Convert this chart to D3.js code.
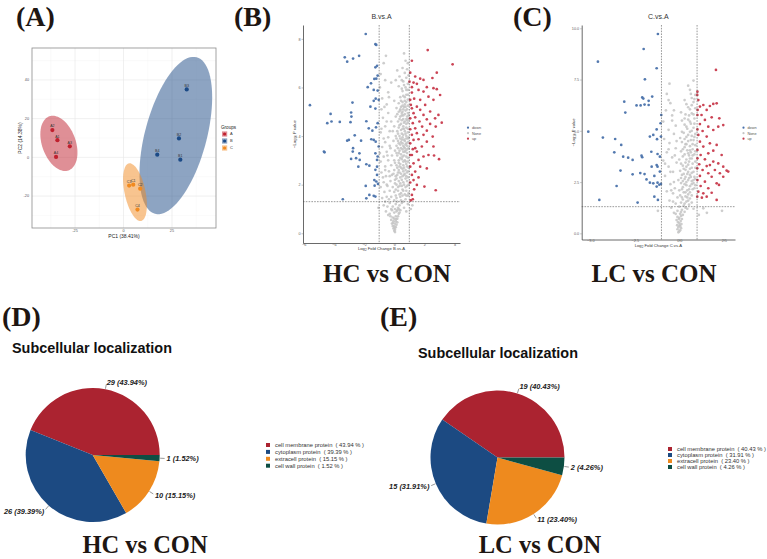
<!DOCTYPE html>
<html>
<head>
<meta charset="utf-8">
<script src="https://cdn.jsdelivr.net/npm/d3@7"></script>
<style>
  body { margin: 0; background: #fff; }
  svg { display: block; }
</style>
</head>
<body>
<script>
var W = 767, H = 559;

// ---------- PCA (panel A) ----------
var pcaSamples = ["A2", "A1", "A3", "A4", "B3", "B2", "B4", "B1", "C3", "C1", "C2", "C4"];
var pcaGroup = ["A", "A", "A", "A", "B", "B", "B", "B", "C", "C", "C", "C"];
var pc1 = [-36.7, -34.1, -27.7, -34.8, 32.6, 28.6, 17.4, 29.3, 2.9, 5.0, 8.6, 7.2];
var pc2 = [14.1, 8.9, 5.7, 0.2, 35.1, 9.8, 1.4, -1.2, -14.6, -14.1, -16.2, -27.0];
var groups = ["A", "B", "C"];
var groupColors = ["#c0202e", "#1b4a86", "#f18a1f"];
var pcaXTicks = [-25, 0, 25];
var pcaYTicks = [-20, 0, 20, 40];

// ---------- volcano B.vs.A  (flat pairs: log2FC, -log10 p) ----------
var volcBDown = [
  -1.89,8.2, -1.25,7.78, -1.19,7.75, -3.28,7.24, -3.12,7.06, -2.73,7.19, -2.33,7.3, -1.14,6.89,
  -1.25,6.83, -1.1,6.49, -1.32,6.35, -1.19,6.36, -1.54,6.17, -1.76,6.01, -1.36,5.9, -1.1,5.87,
  -1.23,5.54, -1.36,5.45, -1.03,5.49, -2.77,5.38, -5.59,5.27, -1.58,5.21, -1.25,5.13, -2.86,4.97,
  -4.22,4.91, -2.84,4.8, -4.44,4.53, -4.16,4.6, -3.61,4.58, -2.9,4.57, -1.85,4.61, -1.1,4.53,
  -1.69,4.32, -1.21,4.36, -1.45,4.22, -2.62,4.03, -3.12,3.81, -3.01,3.84, -2.2,3.81, -1.52,3.87,
  -1.36,3.84, -1.23,3.77, -4.66,3.36, -4.62,3.33, -2.73,3.5, -2.75,3.36, -2.31,3.29, -2.53,3.09,
  -2.86,3.06, -2.29,3.02, -1.25,3.29, -1.1,3.16, -1.14,3.02, -2.38,2.74, -1.85,2.84, -1.65,2.78,
  -1.25,2.61, -1.14,2.4, -1.32,2.19, -1.19,2.13, -1.08,2.03, -1.89,1.95, -1.3,1.96, -1.65,1.58,
  -1.36,1.54, -1.85,1.44, -1.25,1.51, -3.41,1.4, -1.14,2.74, -1.03,3.57
];
var volcBUp = [
  2.22,7.54, 3.87,6.95, 1.17,7.1, 2.82,6.61, 2.53,6.39, 1.06,6.61, 1.39,6.45, 1.72,6.36,
  1.94,6.31, 1.28,6.2, 1.5,6.15, 1.17,6.01, 2.16,6.01, 2.6,5.97, 2.82,5.93, 1.61,5.9,
  1.94,5.83, 1.17,5.79, 3.04,5.69, 2.27,5.62, 1.32,5.54, 1.06,5.49, 1.72,5.49, 2.6,5.49,
  2.05,5.28, 1.5,5.21, 1.17,5.14, 1.72,5.08, 2.38,5.01, 1.28,4.94, 1.94,4.87, 2.93,4.87,
  1.39,4.77, 1.06,4.73, 2.16,4.69, 2.71,4.73, 3.15,4.55, 1.67,4.6, 1.23,4.53, 2.38,4.5,
  1.85,4.39, 1.39,4.32, 1.06,4.28, 2.75,4.39, 2.16,4.22, 1.5,4.12, 1.17,4.05, 1.94,4.05,
  2.55,3.98, 1.61,3.87, 1.28,3.84, 2.16,3.77, 1.06,3.7, 1.83,3.57, 2.6,3.57, 1.23,3.46,
  1.5,3.36, 1.17,3.22, 2.27,3.22, 2.64,3.2, 1.94,3.16, 2.97,3.05, 1.61,3.02, 1.28,2.88,
  1.06,2.74, 1.72,2.74, 2.16,2.67, 1.39,2.54, 1.17,2.4, 1.61,2.3, 1.28,2.19, 1.06,2.09,
  1.5,1.99, 2.0,1.92, 2.75,1.77, 1.32,1.81, 1.17,1.58, 1.23,1.4, 1.1,1.35, 1.39,3.5,
  1.06,3.22, 1.1,5.28, 1.01,6.24
];
var volcBNone = [
  0.0,0.1, 0.05,0.15, -0.05,0.2, 0.1,0.25, -0.1,0.3, 0.0,0.3, 0.15,0.35, -0.15,0.4, 0.05,0.4,
  0.2,0.45, -0.05,0.5, 0.1,0.5, -0.2,0.55, 0.0,0.6, 0.2,0.6, -0.1,0.65, 0.1,0.7, 0.25,0.7,
  -0.25,0.7, 0.05,0.05, 0.02,0.22, -0.08,0.42, 0.12,0.58,
  -0.4,0.75, -0.3,0.8, 0.3,0.8, 0.0,0.85, -0.55,0.9, 0.15,0.9, 0.4,0.95, -0.2,1.0, 0.05,1.0,
  0.25,1.05, -0.45,1.1, -0.1,1.1, 0.35,1.15, 0.1,1.2, -0.3,1.25, 0.5,1.25, 0.2,1.3, -0.6,1.3,
  0.0,1.35, 0.45,1.35, 0.8,0.9, 1.1,1.0, 0.9,1.2, 1.2,1.15, -1.05,1.05, -0.7,1.15, 0.65,1.05,
  -0.15,0.95, 0.3,1.0,
  -0.8,1.45, -0.5,1.5, -0.2,1.5, 0.1,1.55, 0.4,1.5, 0.7,1.6, 0.9,1.55, -0.65,1.7, -0.3,1.75,
  0.0,1.7, 0.25,1.75, 0.55,1.8, 0.8,1.75, -0.9,1.9, -0.45,1.95, -0.1,1.9, 0.15,2.0, 0.35,1.95,
  0.65,2.0, 0.95,2.0, -0.7,2.1, -0.25,2.15, 0.05,2.2, 0.3,2.15, 0.5,2.2, 0.75,2.25, 0.9,2.3,
  -0.55,2.35, -0.15,2.4, 0.2,2.4, 0.45,2.45, 0.65,2.4, 0.85,2.5, -0.85,2.5, -0.35,2.55, 0.0,2.6,
  0.3,2.6, 0.55,2.65, 0.75,2.6, 0.95,2.7, 0.1,1.8, 0.45,1.65, 0.6,2.1, 0.25,2.5, 0.7,2.45,
  0.4,2.3, 0.15,2.25, 0.85,1.95, 0.35,1.6, -0.05,2.45,
  -0.6,2.75, -0.2,2.8, 0.15,2.8, 0.4,2.85, 0.6,2.8, 0.8,2.85, -0.9,2.95, -0.4,3.0, 0.0,3.0,
  0.3,3.0, 0.5,3.05, 0.7,3.0, 0.9,3.1, -0.7,3.15, -0.15,3.2, 0.2,3.2, 0.45,3.25, 0.65,3.2,
  0.85,3.3, -0.5,3.35, 0.05,3.4, 0.35,3.4, 0.55,3.45, 0.75,3.4, 0.95,3.5, -0.8,3.55, -0.3,3.6,
  0.15,3.6, 0.4,3.65, 0.6,3.6, 0.8,3.7, -0.6,3.75, -0.05,3.8, 0.25,3.8, 0.5,3.85, 0.7,3.8,
  0.9,3.9, -0.4,3.95, 0.1,4.0, 0.35,4.0, 0.6,4.05, 0.8,4.0, 0.55,3.15, 0.25,3.5, 0.65,3.55,
  0.45,3.75, 0.75,2.95, 0.85,3.6, 0.3,2.9, 0.55,3.95, 0.7,3.35, 0.95,3.95,
  -0.9,4.15, -0.3,4.2, 0.2,4.2, 0.45,4.25, 0.7,4.2, 0.9,4.3, -0.6,4.4, 0.0,4.4, 0.35,4.45,
  0.6,4.4, 0.8,4.5, -0.2,4.6, 0.25,4.6, 0.5,4.65, 0.7,4.6, 0.95,4.7, -0.75,4.75, 0.1,4.8,
  0.4,4.8, 0.6,4.85, 0.85,4.8, -0.4,4.95, 0.3,5.0, 0.55,5.0, 0.75,5.05, -0.85,5.1, 0.15,5.15,
  0.45,5.2, 0.65,5.2, 0.9,5.25, -0.5,5.3, 0.3,5.35, 0.55,5.4, 0.8,5.4, 0.0,5.45, 0.65,4.3,
  0.85,4.65, 0.5,4.95, 0.7,5.3, 0.4,5.1, 0.9,4.95,
  -0.8,5.55, 0.4,5.6, 0.7,5.6, 0.9,5.7, -0.4,5.8, 0.55,5.85, 0.8,5.9, -0.95,6.0, 0.3,6.05,
  0.65,6.1, 0.9,6.15, -0.6,6.3, 0.5,6.3, 0.8,6.4, 0.95,6.5, -0.9,6.55, 0.7,6.6, 0.2,6.7,
  0.85,6.75, -0.7,7.0, 0.75,7.1, -0.55,7.3, 0.65,7.4, 0.9,7.0,
  0.2,0.95, 0.35,0.85, -0.35,1.4, 0.6,1.3, 0.75,1.4, 0.15,1.45, 0.55,1.55, 0.8,1.55, 0.95,1.65,
  0.6,1.75, 0.25,1.9, 0.5,1.95, 0.75,1.9, 0.05,2.05, 0.4,2.05, 0.85,2.15, 0.55,2.35, 0.8,2.35,
  0.1,2.35, 0.35,2.5, 0.6,2.55, 0.9,2.55, 0.45,2.7, 0.2,2.7, 0.65,2.7, 0.85,2.75, 0.35,2.75,
  0.05,2.9, 0.6,2.95, 0.9,2.95, 0.4,3.1, 0.8,3.15, 0.3,3.3, 0.6,3.35, 0.15,3.3, 0.85,3.45,
  0.45,3.5, 0.7,3.5, 0.3,3.7, 0.55,3.7, 0.75,3.65, 0.9,3.75, 0.15,3.9, 0.4,3.9, 0.65,3.85,
  0.8,3.9, 0.25,4.1, 0.5,4.1, 0.75,4.1, 0.9,4.15, 0.55,4.3, 0.3,4.35, 0.8,4.35, 0.45,4.5,
  0.65,4.55, 0.9,4.55, 0.35,4.7, 0.6,4.7, 0.8,4.7, 0.2,4.9, 0.5,4.85, 0.7,4.9, 0.95,4.85,
  0.4,5.05, 0.6,5.1, 0.85,5.1, 0.55,5.25, 0.75,5.2, 0.45,5.45, 0.7,5.45, 0.9,5.5, 0.6,5.65,
  0.8,5.7, 0.5,5.95, 0.75,6.0, 0.9,5.9, 0.6,6.25, -0.5,2.0, -0.6,2.6, -0.45,3.2, -0.7,3.9,
  -0.5,4.6, -0.65,5.2, -0.3,2.35, -0.25,3.5, -0.1,4.2, -0.35,5.6, -0.2,6.2, 0.1,6.3, 0.35,6.45,
  0.55,6.8, -0.85,4.3, -0.75,2.3, -0.95,3.3
];

// ---------- volcano C.vs.A ----------
var volcCDown = [
  -1.2,9.72, -2.0,8.99, -4.57,8.37, -1.27,8.05, -1.93,7.51, -3.09,6.42, -2.08,6.63, -2.02,6.57,
  -1.52,6.67, -1.72,6.46, -1.72,6.26, -2.4,6.24, -2.17,6.24, -1.95,6.28, -3.03,5.89, -1.01,5.77,
  -1.05,5.37, -1.27,5.07, -5.11,4.96, -4.29,4.67, -3.6,4.6, -1.65,4.72, -1.46,4.8, -1.03,4.72,
  -3.26,4.31, -1.25,4.59, -3.65,3.95, -3.15,3.74, -2.87,3.69, -2.12,3.79, -2.08,3.71, -2.62,3.58,
  -1.57,3.98, -1.22,3.87, -1.09,3.74, -3.3,3.06, -1.27,3.33, -1.22,3.25, -1.55,3.25, -2.19,2.94,
  -2.62,2.88, -1.95,2.89, -1.4,2.8, -3.52,2.31, -1.84,2.63, -1.65,2.47, -1.46,2.44, -1.22,2.47,
  -1.03,2.41, -1.12,2.37, -1.27,2.28, -1.4,1.79, -1.2,1.63, -4.49,1.63, -2.34,1.5, -1.09,3.01
];
var volcCUp = [
  2.06,7.97, 1.02,6.91, 1.01,6.75, 1.07,6.5, 1.35,6.26, 1.72,6.21, 1.91,6.31, 2.1,6.34,
  1.16,6.18, 1.03,6.02, 1.54,6.02, 1.25,5.77, 1.02,5.77, 1.82,5.66, 2.25,5.61, 1.44,5.53,
  1.16,5.33, 1.63,5.2, 2.19,5.2, 2.47,5.28, 1.02,5.07, 1.31,4.99, 1.91,5.04, 1.07,4.8,
  1.54,4.72, 1.16,4.47, 1.72,4.39, 2.1,4.31, 1.35,4.23, 1.02,4.07, 1.91,4.03, 1.63,3.9,
  1.2,3.82, 2.38,3.82, 1.02,3.66, 1.44,3.61, 1.91,3.5, 2.19,3.41, 1.12,3.37, 1.54,3.28,
  1.72,3.33, 2.47,3.25, 1.01,3.17, 1.31,3.09, 2.0,3.09, 2.66,3.06, 2.75,3.01, 1.63,2.93,
  2.28,2.93, 1.16,2.8, 1.82,2.76, 2.47,2.76, 1.02,2.6, 1.44,2.52, 2.1,2.44, 1.2,2.31,
  1.63,2.2, 2.23,2.36, 1.07,2.03, 1.35,1.95, 1.82,1.98, 1.54,1.79, 1.27,1.74, 2.1,1.63,
  1.01,1.79
];
var volcCNone = [
  -0.05,0.05, 0.0,0.1, 0.05,0.15, -0.1,0.2, 0.1,0.25, -0.05,0.3, 0.05,0.35, -0.12,0.4, 0.12,0.45,
  0.0,0.5, -0.08,0.55, 0.08,0.6, -0.15,0.65, 0.15,0.7, 0.0,0.75, -0.1,0.8, 0.1,0.85, 0.2,0.9,
  -0.2,0.95, 0.05,0.95, 0.02,0.4, -0.02,0.7,
  -0.3,1.0, 0.3,1.05, -0.1,1.1, 0.15,1.15, 0.45,1.2, -0.45,1.25, 0.0,1.3, 0.25,1.35, 0.55,1.4,
  -0.2,1.45, 0.1,1.5, 0.4,1.55, -0.55,1.6, 0.2,1.65, 0.6,1.7, -0.1,1.75, 0.35,1.8, 0.05,1.85,
  0.5,1.9, -0.35,1.95, 0.25,2.0, 1.35,1.22, 2.4,1.1, 1.55,1.0, 1.1,0.9, -1.2,1.1, 0.8,1.2, 0.7,1.5,
  -0.7,2.05, 0.0,2.1, 0.45,2.1, 0.75,2.15, -0.25,2.2, 0.2,2.25, 0.6,2.3, 0.9,2.35, -0.5,2.4,
  0.1,2.45, 0.4,2.5, 0.7,2.55, -0.05,2.6, 0.3,2.65, 0.55,2.7, 0.85,2.75, -0.8,2.8, 0.15,2.85,
  0.45,2.9, 0.7,2.95, -0.35,3.0, 0.05,3.05, 0.35,3.1, 0.6,3.15, 0.9,3.2, -0.6,3.25, 0.2,3.3,
  0.5,3.35, 0.75,3.4, -0.15,3.45, 0.3,2.4, 0.6,2.85, 0.4,3.25, 0.8,2.6, 0.25,2.9, 0.1,3.4,
  -0.9,3.55, 0.0,3.6, 0.4,3.6, 0.7,3.65, -0.4,3.7, 0.2,3.75, 0.55,3.8, 0.85,3.85, -0.7,3.95,
  0.1,4.0, 0.45,4.05, 0.75,4.1, -0.2,4.15, 0.3,4.2, 0.6,4.25, 0.9,4.3, -0.55,4.4, 0.15,4.45,
  0.5,4.5, 0.8,4.55, -0.85,4.6, 0.05,4.65, 0.4,4.7, 0.7,4.75, -0.3,4.85, 0.25,4.9, 0.6,4.95,
  0.35,4.35, 0.65,3.95, 0.85,4.7,
  -0.6,5.05, 0.45,5.1, 0.8,5.15, -0.2,5.25, 0.3,5.3, 0.65,5.35, -0.9,5.45, 0.5,5.55, 0.85,5.6,
  -0.4,5.75, 0.35,5.8, 0.7,5.85, -0.75,6.0, 0.6,6.05, 0.9,6.1, 0.4,6.3, 0.8,6.4, -0.5,6.35,
  0.15,5.5, 0.7,6.6, 0.9,6.75, -0.7,6.8, 0.6,7.0, -0.55,7.3, 0.8,7.45, 0.5,7.2,
  0.1,1.05, 0.35,1.25, 0.5,1.6, 0.3,1.45, 0.15,1.75, 0.45,1.75, 0.7,1.85, 0.35,2.0, 0.6,2.0,
  0.15,2.15, 0.55,2.15, 0.85,2.2, 0.4,2.35, 0.7,2.4, 0.2,2.55, 0.5,2.6, 0.8,2.45, 0.35,2.75,
  0.65,2.75, 0.9,2.65, 0.1,2.7, 0.5,3.0, 0.8,3.0, 0.25,3.15, 0.7,3.2, 0.55,3.5, 0.35,3.45,
  0.9,3.5, 0.6,3.65, 0.3,3.85, 0.75,3.8, 0.5,3.9, 0.9,4.0, 0.2,4.1, 0.6,4.05, 0.4,4.35,
  0.75,4.35, 0.3,4.6, 0.65,4.55, 0.9,4.85, 0.5,4.8, 0.15,4.95, 0.7,5.0, 0.4,5.2, 0.6,5.45,
  0.85,5.35, 0.3,5.6, 0.55,5.75, 0.8,5.8, 0.5,6.15, 0.7,6.25, 0.85,6.55, 0.65,6.8, -0.3,2.5,
  -0.5,3.0, -0.25,3.8, -0.6,4.1, -0.15,4.5, -0.4,5.5, -0.6,6.5, -0.3,6.0, 0.1,5.9, 0.3,6.5,
  -0.8,3.4, -0.45,2.1, -0.35,1.55
];
var volcBXTicks = [-6, -4, -2, 0, 2, 4];
var volcBYTicks = [0, 2, 4, 6, 8];
var volcCXTicks = [-5, -2.5, 0, 2.5];
var volcCYTicks = [0, 2.5, 5, 7.5, 10];
var volcLegend = ["down", "None", "up"];
var volcColors = ["#4a72ab", "#c4c4c4", "#c83a4c"];

// ---------- subcellular localization (panels D, E) ----------
var locCategories = ["cell membrane protein", "cytoplasm protein", "extracell protein", "cell wall protein"];
var locColors = ["#ab2330", "#1c4a82", "#ee8a1e", "#0d4e43"];
var hcCounts = [29, 26, 10, 1];
var lcCounts = [19, 15, 11, 2];

var svg = d3.select("body").append("svg")
  .attr("width", W).attr("height", H)
  .style("font-family", "'Liberation Sans', Arial, sans-serif");

var serif = "'Liberation Serif', 'Times New Roman', serif";

function bigText(txt, x, y, size, anchor) {
  svg.append("text")
    .attr("x", x).attr("y", y)
    .attr("text-anchor", anchor || "start")
    .attr("font-family", serif)
    .attr("font-weight", "bold")
    .attr("font-size", size)
    .attr("fill", "#1e1612")
    .text(txt);
}

// panel labels
bigText("(A)", 16, 26, 28);
bigText("(B)", 234, 26, 28);
bigText("(C)", 513, 26, 28);
bigText("(D)", 2, 326, 28);
bigText("(E)", 380, 326, 28);
bigText("HC vs CON", 387, 282, 25, "middle");
bigText("LC vs CON", 654, 282, 25, "middle");
bigText("HC vs CON", 145, 553, 24.5, "middle");
bigText("LC vs CON", 540, 553, 24.5, "middle");

// ================= PCA =================
var px = d3.scaleLinear().domain([-47.2, 47.7]).range([32, 216]);
var py = d3.scaleLinear().domain([-36.5, 56.5]).range([228, 48]);
var pca = svg.append("g");

pca.append("rect").attr("x", 32).attr("y", 48).attr("width", 184).attr("height", 180).attr("fill", "#fff");
var xMinor = pcaXTicks.map(function (t) { return t - 12.5; }).concat([37.5]);
var yMinor = pcaYTicks.map(function (t) { return t - 10; }).concat([50]);
pca.selectAll(".gxm").data(xMinor).enter().append("line")
  .attr("x1", px).attr("x2", px).attr("y1", 48).attr("y2", 228)
  .attr("stroke", "#f2f2f2").attr("stroke-width", 0.4);
pca.selectAll(".gym").data(yMinor).enter().append("line")
  .attr("y1", py).attr("y2", py).attr("x1", 32).attr("x2", 216)
  .attr("stroke", "#f2f2f2").attr("stroke-width", 0.4);
pca.selectAll(".gx").data(pcaXTicks).enter().append("line")
  .attr("x1", px).attr("x2", px).attr("y1", 48).attr("y2", 228)
  .attr("stroke", "#e6e6e6").attr("stroke-width", 0.6);
pca.selectAll(".gy").data(pcaYTicks).enter().append("line")
  .attr("y1", py).attr("y2", py).attr("x1", 32).attr("x2", 216)
  .attr("stroke", "#e6e6e6").attr("stroke-width", 0.6);

// confidence ellipses from each group's covariance (major / minor scale)
var ellipseScale = [[2.45, 2.45], [2.45, 3.1], [2.45, 2.45]];
function ellipsePts(xs, ys, k1, k2) {
  var mx = d3.mean(xs), my = d3.mean(ys);
  var a = d3.variance(xs), c = d3.variance(ys);
  var b = d3.sum(xs, function (v, i) { return (v - mx) * (ys[i] - my); }) / (xs.length - 1);
  var m = (a + c) / 2, d = Math.sqrt((a - c) * (a - c) / 4 + b * b);
  var l1 = m + d, l2 = Math.max(m - d, 0);
  var vx = b, vy = l1 - a;
  var n = Math.hypot(vx, vy);
  vx /= n; vy /= n;
  return d3.range(0, 360, 4).map(function (t) {
    var r = t * Math.PI / 180;
    var u = k1 * Math.sqrt(l1) * Math.cos(r), w = k2 * Math.sqrt(l2) * Math.sin(r);
    return [mx + u * vx - w * vy, my + u * vy + w * vx];
  });
}
var ell = d3.line().x(function (d) { return px(d[0]); }).y(function (d) { return py(d[1]); }).curve(d3.curveLinearClosed);
groups.forEach(function (g, gi) {
  var xs = pc1.filter(function (v, i) { return pcaGroup[i] == g; });
  var ys = pc2.filter(function (v, i) { return pcaGroup[i] == g; });
  pca.append("path").attr("d", ell(ellipsePts(xs, ys, ellipseScale[gi][0], ellipseScale[gi][1])))
    .attr("fill", groupColors[gi]).attr("fill-opacity", 0.5);
});

pca.append("rect").attr("x", 32).attr("y", 48).attr("width", 184).attr("height", 180)
  .attr("fill", "none").attr("stroke", "#8c8c8c").attr("stroke-width", 0.8);

pca.selectAll(".pt").data(pc1).enter().append("circle")
  .attr("cx", function (d) { return px(d); })
  .attr("cy", function (d, i) { return py(pc2[i]); })
  .attr("r", 2.1)
  .attr("fill", function (d, i) { return groupColors[groups.indexOf(pcaGroup[i])]; });
pca.selectAll(".pl").data(pc1).enter().append("text")
  .attr("x", function (d) { return px(d); })
  .attr("y", function (d, i) { return py(pc2[i]) - 2.6; })
  .attr("text-anchor", "middle").attr("font-size", 3.6).attr("fill", "#333")
  .text(function (d, i) { return pcaSamples[i]; });

pca.selectAll(".xt").data(pcaXTicks).enter().append("text")
  .attr("x", px).attr("y", 232).attr("text-anchor", "middle")
  .attr("font-size", 3.8).attr("fill", "#555").text(function (d) { return d; });
pca.selectAll(".yt").data(pcaYTicks).enter().append("text")
  .attr("x", 29).attr("y", function (d) { return py(d) + 1.3; }).attr("text-anchor", "end")
  .attr("font-size", 3.8).attr("fill", "#555").text(function (d) { return d; });
pca.append("text").attr("x", 124).attr("y", 237.5).attr("text-anchor", "middle")
  .attr("font-size", 5).attr("fill", "#222").text("PC1 (38.41%)");
pca.append("text").attr("transform", "translate(22,138) rotate(-90)").attr("text-anchor", "middle")
  .attr("font-size", 5).attr("fill", "#222").text("PC2 (14.38%)");

pca.append("text").attr("x", 221).attr("y", 128.5).attr("font-size", 4.6).attr("fill", "#222").text("Groups");
groups.forEach(function (g, gi) {
  var yy = 134 + gi * 7;
  pca.append("rect").attr("x", 222).attr("y", yy - 2.6).attr("width", 5.2).attr("height", 5.2)
    .attr("fill", groupColors[gi]).attr("fill-opacity", 0.5);
  pca.append("circle").attr("cx", 224.6).attr("cy", yy).attr("r", 1.6).attr("fill", groupColors[gi]);
  pca.append("text").attr("x", 230).attr("y", yy + 1.4).attr("font-size", 4).attr("fill", "#333").text(g);
});

// ================= volcano plots =================
function pairs(flat) {
  var out = [];
  for (var i = 0; i < flat.length; i += 2) out.push([flat[i], flat[i + 1]]);
  return out;
}

function volcano(o) {
  var x = d3.scaleLinear().domain(o.xd).range(o.xr);
  var y = d3.scaleLinear().domain(o.yd).range(o.yr);
  var g = svg.append("g");

  [o.none, o.down, o.up].forEach(function (set, si) {
    var col = [volcColors[1], volcColors[0], volcColors[2]][si];
    g.selectAll(null).data(pairs(set)).enter().append("circle")
      .attr("cx", function (d) { return x(d[0]); })
      .attr("cy", function (d) { return y(d[1]); })
      .attr("r", 1.35)
      .attr("fill", col)
      .attr("fill-opacity", si == 0 ? 0.85 : 0.95);
  });

  [-1, 1].forEach(function (v) {
    g.append("line").attr("x1", x(v)).attr("x2", x(v)).attr("y1", o.yr[1]).attr("y2", o.yr[0])
      .attr("stroke", "#555").attr("stroke-width", 0.6).attr("stroke-dasharray", "1.6,1.2");
  });
  g.append("line").attr("x1", o.xr[0]).attr("x2", o.xr[1])
    .attr("y1", y(-Math.log10(0.05))).attr("y2", y(-Math.log10(0.05)))
    .attr("stroke", "#555").attr("stroke-width", 0.6).attr("stroke-dasharray", "1.6,1.2");

  var xa = g.append("g").attr("transform", "translate(0," + o.yr[0] + ")")
    .call(d3.axisBottom(x).tickValues(o.xt).tickSize(1.5).tickSizeOuter(0).tickFormat(o.fmt));
  var ya = g.append("g").attr("transform", "translate(" + o.xr[0] + ",0)")
    .call(d3.axisLeft(y).tickValues(o.yt).tickSize(1.5).tickSizeOuter(0).tickFormat(o.fmt));
  [xa, ya].forEach(function (a) {
    a.select(".domain").attr("stroke", "#444").attr("stroke-width", 0.8);
    a.selectAll(".tick line").attr("stroke", "#666").attr("stroke-width", 0.4);
    a.selectAll(".tick text").attr("font-size", 3.8).attr("fill", "#666")
      .attr("font-family", "'Liberation Sans', Arial, sans-serif");
  });
  xa.selectAll(".tick text").attr("dy", "0.2em").attr("y", 2.2);
  ya.selectAll(".tick text").attr("x", -2.5);

  var mid = (o.xr[0] + o.xr[1]) / 2;
  g.append("text").attr("x", mid).attr("y", 18.5).attr("text-anchor", "middle")
    .attr("font-size", 7).attr("fill", "#333").text(o.title);

  var xl = g.append("text").attr("x", mid).attr("y", o.yr[0] + 7).attr("text-anchor", "middle")
    .attr("font-size", 4.2).attr("fill", "#333");
  xl.append("tspan").text("Log");
  xl.append("tspan").attr("font-size", 3).attr("dy", 1).text("2");
  xl.append("tspan").attr("dy", -1).text(" Fold Change " + o.title);

  var yl = g.append("text")
    .attr("transform", "translate(" + (o.xr[0] - 7) + "," + ((o.yr[0] + o.yr[1]) / 2) + ") rotate(-90)")
    .attr("text-anchor", "middle").attr("font-size", 4.2).attr("fill", "#333");
  yl.append("tspan").text("\u2212Log");
  yl.append("tspan").attr("font-size", 3).attr("dy", 1).text("10");
  yl.append("tspan").attr("dy", -1).text(" P value");

  volcLegend.forEach(function (lab, i) {
    var yy = 127.7 + i * 5.5;
    g.append("circle").attr("cx", o.legX).attr("cy", yy).attr("r", 1.1).attr("fill", volcColors[i]);
    g.append("text").attr("x", o.legX + 4).attr("y", yy + 1.3).attr("font-size", 3.8).attr("fill", "#555").text(lab);
  });
}

volcano({
  title: "B.vs.A", xd: [-6.05, 4.36], xr: [303, 460], yd: [-0.4, 8.57], yr: [243, 25],
  xt: volcBXTicks, yt: volcBYTicks, fmt: d3.format("d"),
  none: volcBNone, down: volcBDown, up: volcBUp, legX: 468
});
volcano({
  title: "C.vs.A", xd: [-5.48, 3.13], xr: [581.7, 735], yd: [-0.3, 10.16], yr: [239.5, 25],
  xt: volcCXTicks, yt: volcCYTicks, fmt: d3.format(".1f"),
  none: volcCNone, down: volcCDown, up: volcCUp, legX: 743.5
});

// ================= pies =================
function pieChart(o) {
  var total = d3.sum(o.counts);
  var pie = d3.pie().sort(null).startAngle(Math.PI / 2).endAngle(Math.PI / 2 - 2 * Math.PI);
  var arcs = pie(o.counts);
  var arc = d3.arc().innerRadius(0).outerRadius(o.r);
  var g = svg.append("g").attr("transform", "translate(" + o.cx + "," + o.cy + ")");

  svg.append("text").attr("x", o.titleX).attr("y", o.titleY)
    .attr("font-size", 14.4).attr("font-weight", "bold").attr("fill", "#111")
    .text("Subcellular localization");

  g.selectAll("path").data(arcs).enter().append("path")
    .attr("d", arc).attr("fill", function (d, i) { return locColors[i]; });

  arcs.forEach(function (a, i) {
    var m = (a.startAngle + a.endAngle) / 2;
    var sx = Math.sin(m), sy = -Math.cos(m);
    var right = sx >= 0;
    g.append("line")
      .attr("x1", sx * (o.r + 0.5)).attr("y1", sy * (o.r + 0.5))
      .attr("x2", sx * (o.r + 5)).attr("y2", sy * (o.r + 5))
      .attr("stroke", "#333").attr("stroke-width", 0.5);
    var pct = (o.counts[i] / total * 100).toFixed(2);
    g.append("text")
      .attr("x", sx * (o.r + 7)).attr("y", sy * (o.r + 7) + 2.6)
      .attr("text-anchor", right ? "start" : "end")
      .attr("font-size", 7.4).attr("font-weight", "bold").attr("font-style", "italic").attr("fill", "#222")
      .text(o.counts[i] + " (" + pct + "%)");
  });

  locCategories.forEach(function (c, i) {
    var yy = o.legY + i * o.legStep;
    svg.append("rect").attr("x", o.legX).attr("y", yy - 2).attr("width", 4).attr("height", 4)
      .attr("fill", locColors[i]);
    svg.append("text").attr("x", o.legX + 9).attr("y", yy + 2)
      .attr("font-size", 5.8).attr("fill", "#333").style("white-space", "pre")
      .text(c + "  ( " + (o.counts[i] / total * 100).toFixed(2) + " % )");
  });
}

pieChart({ counts: hcCounts, cx: 92.7, cy: 455, r: 67, titleX: 12, titleY: 353,
  legX: 266, legY: 445, legStep: 6.9 });
pieChart({ counts: lcCounts, cx: 497.5, cy: 457.5, r: 67, titleX: 418, titleY: 357.5,
  legX: 668, legY: 449, legStep: 6 });
</script>
</body>
</html>
